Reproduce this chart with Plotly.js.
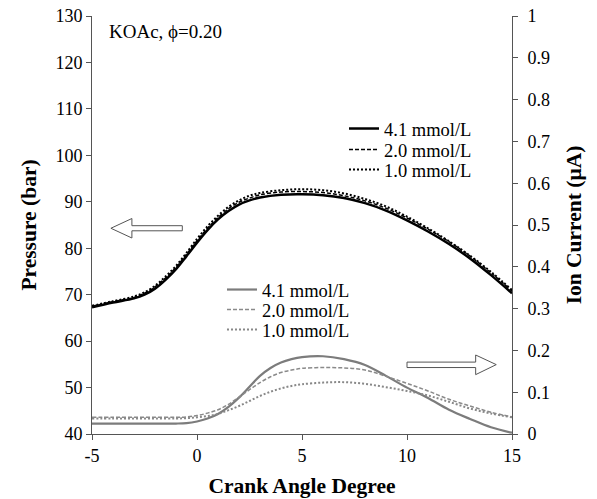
<!DOCTYPE html>
<html>
<head>
<meta charset="utf-8">
<script src="https://cdn.plot.ly/plotly-3.0.1.min.js"></script>
<style>html,body{margin:0;padding:0;background:#fff;}#chart{width:597px;height:499px;}</style>
</head>
<body>
<div id="chart"></div>
<script>
// Crank angle (deg) for pressure curves
const crankP = [-5,-4,-3,-2.5,-2,-1.5,-1,-0.5,0,0.5,1,1.5,2,2.5,3,4,5,6,7,8,9,10,11,12,13,14,15];
// Pressure (bar)
const pres41 = [67.3,68.3,69.2,70.0,71.3,73.2,75.5,78.3,81.2,83.9,86.2,88.0,89.4,90.3,90.9,91.5,91.6,91.4,90.8,89.7,88.1,86.0,83.6,80.9,77.8,74.2,70.3];
const pres20 = [67.5,68.5,69.4,70.3,71.7,73.6,75.9,78.7,81.6,84.3,86.6,88.5,89.9,90.8,91.5,92.1,92.2,92.0,91.3,90.2,88.6,86.5,84.1,81.4,78.3,74.7,70.8];
const pres10 = [67.6,68.6,69.6,70.5,71.9,73.9,76.2,79.0,82.0,84.7,87.0,88.9,90.3,91.3,91.9,92.5,92.7,92.5,91.8,90.6,89.0,86.8,84.3,81.5,78.4,74.9,71.0];

// Crank angle (deg) for ion current curves
const crankI = [-5,-4,-3,-2,-1,-0.5,0,0.5,1,1.5,2,2.5,3,3.5,4,4.5,5,6,7,8,9,10,11,12,13,14,15];
// Ion current (uA)
const ion41 = [0.025,0.025,0.025,0.025,0.025,0.026,0.030,0.037,0.048,0.065,0.087,0.113,0.139,0.158,0.171,0.179,0.184,0.186,0.179,0.165,0.139,0.111,0.086,0.058,0.036,0.016,0.003];
const ion20 = [0.040,0.040,0.040,0.040,0.040,0.041,0.044,0.050,0.058,0.071,0.088,0.106,0.123,0.137,0.147,0.153,0.157,0.159,0.158,0.153,0.138,0.121,0.103,0.083,0.067,0.052,0.041];
const ion10 = [0.037,0.037,0.037,0.037,0.037,0.038,0.040,0.043,0.048,0.057,0.067,0.079,0.091,0.101,0.109,0.115,0.119,0.123,0.124,0.120,0.112,0.103,0.092,0.077,0.061,0.049,0.040];

const seriesNames = ['4.1 mmol/L','2.0 mmol/L','1.0 mmol/L'];
const xTicks = [-5,0,5,10,15];
const xTickText = ['-5','0','5','10','15'];
const ionTicks = [0,0.1,0.2,0.3,0.4,0.5,0.6,0.7,0.8,0.9,1];
const ionTickText = ['0','0.1','0.2','0.3','0.4','0.5','0.6','0.7','0.8','0.9','1'];

const serif = 'Liberation Serif, Times New Roman, serif';
const axisCol = '#555555';
const gray = '#7c7c7c';

const traces = [
  {x: crankP, y: pres41, name: seriesNames[0], mode:'lines', line:{color:'#000', width:2.5, shape:'spline'}, legend:'legend'},
  {x: crankP, y: pres20, name: seriesNames[1], mode:'lines', line:{color:'#000', width:1.5, dash:'4px,2px', shape:'spline'}, legend:'legend2'},
  {x: crankP, y: pres10, name: seriesNames[2], mode:'lines', line:{color:'#000', width:2, dash:'2px,2px', shape:'spline'}, legend:'legend3'},
  {x: crankI, y: ion41, name: seriesNames[0], yaxis:'y2', mode:'lines', line:{color:gray, width:2.2, shape:'spline'}, legend:'legend4'},
  {x: crankI, y: ion20, name: seriesNames[1], yaxis:'y2', mode:'lines', line:{color:'#8a8a8a', width:1.5, dash:'4px,2px', shape:'spline'}, legend:'legend5'},
  {x: crankI, y: ion10, name: seriesNames[2], yaxis:'y2', mode:'lines', line:{color:'#888888', width:2, dash:'2px,2px', shape:'spline'}, legend:'legend6'}
];

const legendFont = {family: serif, size: 18.5, color:'#000'};
function leg(x, y) {
  return {x: x, y: y, xanchor: 'left', yanchor: 'middle', bgcolor: 'rgba(0,0,0,0)',
          borderwidth: 0, font: legendFont, itemwidth: 30, tracegroupgap: 0};
}

const layout = {
  width: 597, height: 499,
  margin: {l: 92, r: 85, t: 16, b: 65},
  paper_bgcolor: '#fff', plot_bgcolor: '#fff',
  font: {family: serif, size: 18, color: '#000'},
  showlegend: true,
  xaxis: {
    range: [-5, 15], tickvals: xTicks, ticktext: xTickText, showgrid: false, zeroline: false,
    showline: true, linecolor: axisCol, linewidth: 1,
    ticks: 'outside', ticklen: 5, tickcolor: axisCol,
    tickfont: {family: serif, size: 18, color: '#000'},
    title: {text: '<b>Crank Angle Degree</b>', font: {family: serif, size: 21.5, color:'#000'}, standoff: 13}
  },
  yaxis: {
    range: [40, 130], dtick: 10, tick0: 40, showgrid: false, zeroline: false,
    showline: true, linecolor: axisCol, linewidth: 1,
    ticks: 'outside', ticklen: 5, tickcolor: axisCol,
    tickfont: {family: serif, size: 18, color: '#000'},
    title: {text: '<b>Pressure (bar)</b>', font: {family: serif, size: 21.5, color:'#000'}, standoff: 12}
  },
  yaxis2: {
    range: [0, 1], overlaying: 'y', side: 'right',
    tickvals: ionTicks, ticktext: ionTickText,
    showgrid: false, zeroline: false,
    showline: true, linecolor: axisCol, linewidth: 1,
    ticks: 'outside', ticklen: 5, tickcolor: axisCol, ticklabelstandoff: 6,
    tickfont: {family: serif, size: 18, color: '#000'},
    title: {text: '<b>Ion Current (μA)</b>', font: {family: serif, size: 21.5, color:'#000'}, standoff: 16}
  },
  legend: leg(0.6, 0.7297),
  legend2: leg(0.6, 0.6794),
  legend3: leg(0.6, 0.6316),
  legend4: leg(0.3095, 0.3445),
  legend5: leg(0.3095, 0.2967),
  legend6: leg(0.3095, 0.2488),
  annotations: [
    {xref:'paper', yref:'paper', x: 0.0357, y: 0.962, xanchor:'left', yanchor:'middle',
     text: 'KOAc, ϕ=0.20', showarrow: false, font: {family: serif, size: 19, color:'#000'}}
  ],
  shapes: [
    {type:'path', xref:'x', yref:'y',
     path:'M -4.1,84.3 L -3.1,86.4 L -3.1,84.85 L -0.7,84.85 L -0.7,83.75 L -3.1,83.75 L -3.1,82.2 Z',
     fillcolor:'#fff', line:{color:axisCol, width:1}},
    {type:'path', xref:'x', yref:'y2',
     path:'M 14.25,0.166 L 13.27,0.189 L 13.27,0.172 L 10.0,0.172 L 10.0,0.159 L 13.27,0.159 L 13.27,0.142 Z',
     fillcolor:'#fff', line:{color:axisCol, width:1}}
  ]
};

Plotly.newPlot('chart', traces, layout, {displayModeBar: false, staticPlot: true});
</script>
</body>
</html>
